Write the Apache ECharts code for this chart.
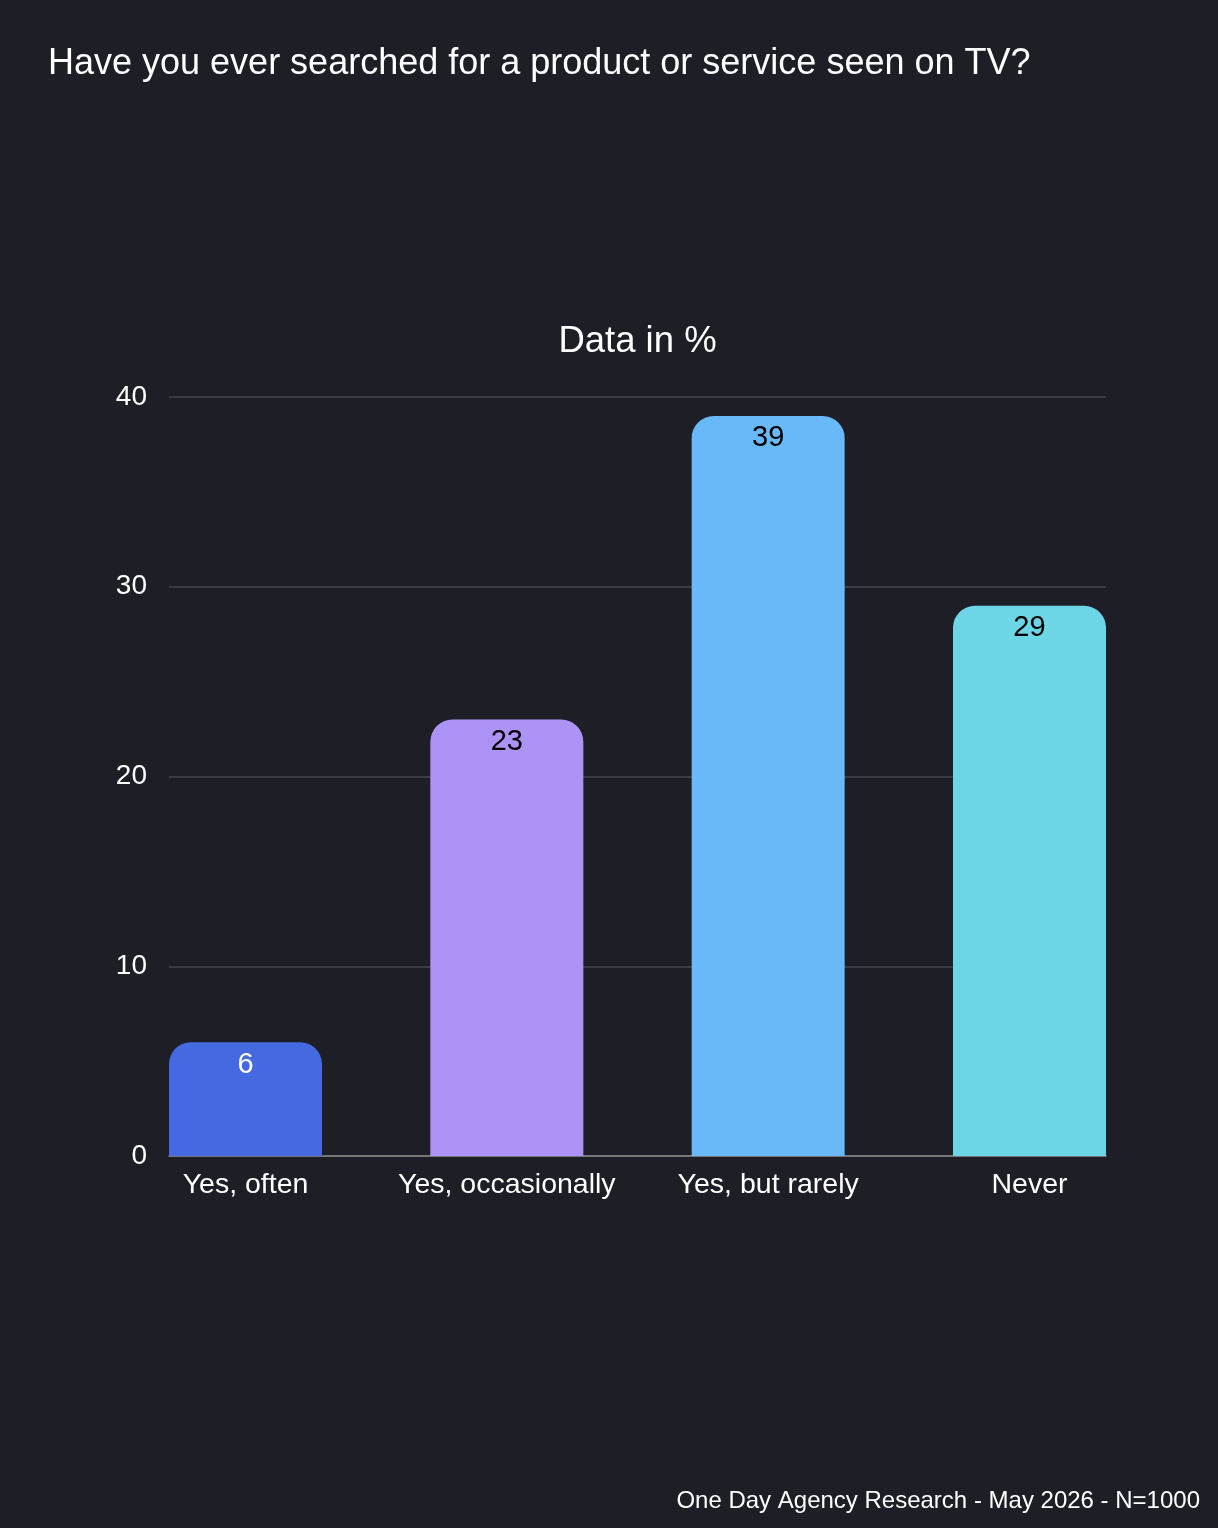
<!DOCTYPE html>
<html lang="en">
  <head>
    <meta charset="UTF-8" />
    <title>TV search</title>
    <script src="https://cdn.jsdelivr.net/npm/echarts@6/dist/echarts.min.js"></script>
    <style>
      html, body { margin: 0; padding: 0; background: #1e1f26; }
    </style>
  </head>
  <body>
    <div id="chart" style="width: 1218px; height: 1528px"></div>
  </body>
  <script>
    // data
    let categories = ["Yes, often", "Yes, occasionally", "Yes, but rarely", "Never"];
    let values = [6, 23, 39, 29];
    let barColors = ["#4469e0", "#ae93f7", "#69b9f9", "#6dd6e6"];
    let labelColors = ["#ffffff", "#000000", "#000000", "#000000"];

    let font = "Liberation Sans, Arial, Helvetica, sans-serif";

    // bars run from the left edge of the plot to its right edge,
    // so the bar grid is wider than the gridline grid
    let plotLeft = 169, plotRight = 1106;
    let barW = 153;
    let step = (plotRight - plotLeft - barW) / (categories.length - 1);
    let barGridLeft = plotLeft + barW / 2 - step / 2;
    let barGridWidth = step * categories.length;

    let chart = echarts.init(document.getElementById("chart"));
    chart.setOption({
      backgroundColor: "#1e1f26",
      animation: false,
      textStyle: { fontFamily: font },
      title: [
        {
          text: "Have you ever searched for a product or service seen on TV?",
          left: 48,
          top: 46,
          padding: 0,
          textStyle: { color: "#ffffff", fontSize: 36, fontWeight: "normal", fontFamily: font },
        },
        {
          text: "Data in %",
          left: (plotLeft + plotRight) / 2,
          textAlign: "center",
          top: 323,
          padding: 0,
          textStyle: { color: "#ffffff", fontSize: 36.5, fontWeight: "normal", fontFamily: font },
        },
        {
          text: "One Day Agency Research - May 2026 - N=1000",
          right: 18,
          top: 1489,
          padding: 0,
          textStyle: { color: "#ffffff", fontSize: 24, fontWeight: "normal", fontFamily: font },
        },
      ],
      grid: [
        { left: plotLeft, width: plotRight - plotLeft, top: 397, height: 759 },
        { left: barGridLeft, width: barGridWidth, top: 397, height: 759 },
      ],
      xAxis: [
        {
          type: "category",
          gridIndex: 0,
          data: categories,
          axisLine: { show: true, lineStyle: { color: "#8a8a8a", width: 1.5 } },
          axisTick: { show: false },
          axisLabel: { show: false },
        },
        {
          type: "category",
          gridIndex: 1,
          data: categories,
          axisLine: { show: false },
          axisTick: { show: false },
          axisLabel: { color: "#ffffff", fontSize: 28.5, margin: 15, interval: 0, fontFamily: font },
        },
      ],
      yAxis: [
        {
          type: "value",
          gridIndex: 0,
          min: 0,
          max: 40,
          interval: 10,
          axisLine: { show: false },
          axisTick: { show: false },
          axisLabel: { color: "#ffffff", fontSize: 28, margin: 22, fontFamily: font },
          splitLine: { lineStyle: { color: "#45464d", width: 1.5 } },
        },
        {
          type: "value",
          gridIndex: 1,
          min: 0,
          max: 40,
          interval: 10,
          show: false,
          splitLine: { show: false },
        },
      ],
      series: [
        {
          type: "bar",
          xAxisIndex: 1,
          yAxisIndex: 1,
          barWidth: barW,
          data: values.map((v, i) => ({
            value: v,
            itemStyle: { color: barColors[i], borderRadius: [22, 22, 0, 0] },
            label: { color: labelColors[i] },
          })),
          label: {
            show: true,
            position: "insideTop",
            distance: 8,
            fontSize: 29,
            fontFamily: font,
          },
        },
      ],
    });
  </script>
</html>
